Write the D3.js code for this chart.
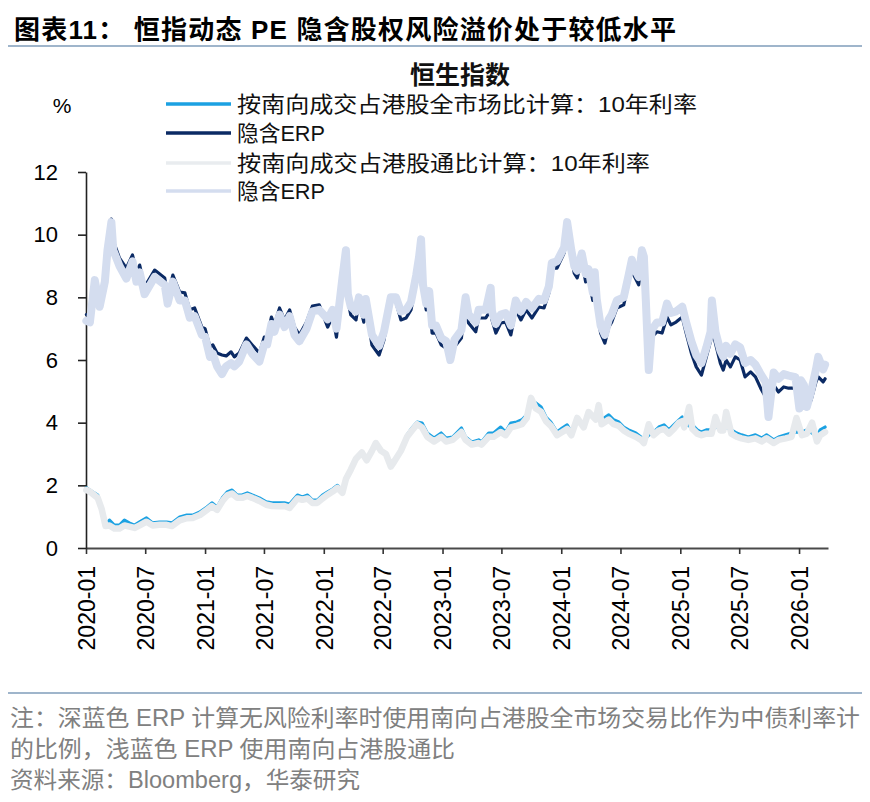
<!DOCTYPE html>
<html>
<head>
<meta charset="utf-8">
<script src="https://cdn.jsdelivr.net/npm/d3@7"></script>
<style>
  body { margin: 0; background: #fff; }
  svg { display: block; }
</style>
</head>
<body>
<div id="chart-container"></div>
<script>
// --- 1. DATA ---
const erpDates = [
  "2020-01-02","2020-01-13","2020-01-28","2020-02-12","2020-02-28","2020-03-07","2020-03-19","2020-03-25",
  "2020-04-13","2020-05-04","2020-05-23","2020-06-04","2020-06-14","2020-06-29","2020-07-30","2020-08-30",
  "2020-09-08","2020-09-24","2020-10-15","2020-10-31","2020-11-15","2020-11-30","2020-12-22","2021-01-01",
  "2021-01-16","2021-01-25","2021-02-07","2021-02-22","2021-03-07","2021-03-22","2021-04-01","2021-04-16",
  "2021-05-08","2021-05-26","2021-06-17","2021-07-02","2021-07-11","2021-07-24","2021-08-02","2021-08-18",
  "2021-09-02","2021-09-18","2021-10-03","2021-10-18","2021-11-09","2021-11-27","2021-12-18","2022-01-13",
  "2022-01-28","2022-02-09","2022-02-27","2022-03-10","2022-03-16","2022-03-25","2022-04-10","2022-04-19",
  "2022-05-04","2022-05-10","2022-05-29","2022-06-20","2022-07-05","2022-07-26","2022-08-11","2022-08-26",
  "2022-09-11","2022-09-26","2022-10-12","2022-10-21","2022-10-27","2022-11-02","2022-11-12","2022-11-21",
  "2022-11-30","2022-12-12","2022-12-28","2023-01-12","2023-01-25","2023-02-07","2023-02-28","2023-03-13",
  "2023-03-22","2023-04-13","2023-04-22","2023-05-14","2023-05-29","2023-06-02","2023-06-14","2023-06-29",
  "2023-07-14","2023-07-30","2023-08-14","2023-08-30","2023-09-15","2023-10-03","2023-10-24","2023-11-09",
  "2023-11-24","2023-12-03","2023-12-19","2024-01-10","2024-01-19","2024-02-01","2024-02-10","2024-02-19",
  "2024-03-04","2024-03-16","2024-03-25","2024-04-07","2024-04-13","2024-04-19","2024-05-01","2024-05-14",
  "2024-05-26","2024-06-04","2024-06-20","2024-07-11","2024-07-26","2024-08-05","2024-08-11","2024-08-26",
  "2024-09-05","2024-09-11","2024-09-17","2024-09-26","2024-10-05","2024-10-21","2024-11-06","2024-11-21",
  "2024-12-03","2024-12-19","2025-01-07","2025-01-19","2025-02-04","2025-02-19","2025-03-07","2025-03-22",
  "2025-04-04","2025-04-08","2025-04-19","2025-05-04","2025-05-13","2025-05-22","2025-06-04","2025-06-19",
  "2025-07-04","2025-07-19","2025-08-05","2025-08-20","2025-09-05","2025-09-20","2025-09-29","2025-10-15",
  "2025-10-30","2025-11-15","2025-11-30","2025-12-21","2026-01-02","2026-01-07","2026-01-16","2026-01-25",
  "2026-02-07","2026-02-22","2026-03-01","2026-03-16","2026-03-22"
];
// 隐含ERP (全市场口径)
const erpFull = [
  7.45,7.45,8.4,7.95,8.75,9.7,10.5,9.8,
  9.25,8.93,9.35,8.8,9.03,8.33,8.87,8.62,
  8.0,8.71,8.17,8.14,7.6,7.66,7.05,7.0,
  6.42,6.48,6.22,6.16,6.13,6.26,6.1,6.22,
  6.7,6.48,6.22,6.73,6.73,7.37,7.12,7.66,
  7.28,7.6,7.05,6.8,7.21,7.72,7.76,7.05,
  7.4,6.73,8.46,9.51,7.9,7.44,7.28,7.85,
  7.21,7.82,6.48,6.16,6.64,7.9,7.85,7.28,
  7.34,7.6,8.46,9.1,9.2,8.17,7.6,8.0,
  6.86,6.86,6.48,6.38,6.0,6.42,6.7,7.9,
  7.18,6.9,7.34,7.34,7.6,7.28,6.86,7.18,
  7.21,6.8,7.6,7.28,7.6,7.34,7.69,7.66,
  8.14,8.93,8.93,9.42,10.0,9.29,8.77,8.62,
  9.19,8.49,8.65,7.9,8.65,7.69,6.86,6.54,
  7.05,7.21,7.66,7.76,8.46,9.0,8.71,8.4,
  9.4,9.1,7.69,6.4,6.73,6.9,6.86,7.37,
  7.12,7.21,7.37,6.86,6.22,5.78,5.52,6.1,
  6.6,6.96,6.54,5.9,5.68,6.0,5.78,6.1,
  6.0,5.46,5.62,5.46,5.1,4.82,5.0,5.2,
  4.98,5.14,5.1,5.1,5.0,4.95,4.82,4.56,
  4.72,5.3,5.46,5.3,5.4
];
// 隐含ERP (港股通口径)
const erpConnect = [
  7.25,7.2,8.55,7.7,8.5,9.5,10.4,9.5,
  9.0,8.6,9.15,8.5,8.8,8.1,8.65,8.4,
  7.8,8.5,7.9,7.9,7.35,7.4,6.8,6.75,
  6.1,6.2,5.8,5.55,5.8,5.9,5.8,5.95,
  6.5,6.2,5.95,6.5,6.5,7.15,6.9,7.45,
  7.05,7.4,6.8,6.6,7.0,7.55,7.6,7.3,
  7.6,7.0,8.6,9.5,8.1,7.7,7.55,8.0,
  7.45,7.95,6.8,6.45,6.9,8.0,8.0,7.55,
  7.6,7.85,8.7,9.3,9.85,8.4,7.8,8.2,
  7.1,7.1,6.7,6.6,6.0,6.65,6.95,8.0,
  7.45,7.2,7.6,7.6,8.3,7.55,7.15,7.45,
  7.5,7.1,7.9,7.55,7.85,7.65,7.95,7.9,
  8.35,9.1,9.15,9.6,10.4,9.5,9.0,8.85,
  9.4,8.75,8.9,8.15,8.8,7.95,7.1,6.8,
  7.3,7.45,7.9,8.0,8.7,9.2,8.95,8.65,
  9.5,9.3,7.9,5.68,6.95,7.2,7.2,7.8,
  7.5,7.55,7.7,7.2,6.6,6.15,5.9,6.4,
  6.9,7.9,6.9,6.3,6.1,6.45,6.2,6.5,
  6.4,5.9,6.0,5.85,5.55,5.3,4.18,5.6,
  5.4,5.55,5.5,5.45,4.45,5.35,5.2,4.5,
  5.0,5.7,6.1,5.7,5.85
];

const rateDates = [
  "2020-01-02","2020-01-13","2020-02-06","2020-02-18","2020-03-01","2020-03-13","2020-03-28","2020-04-13",
  "2020-04-28","2020-05-13","2020-05-29","2020-06-14","2020-07-05","2020-07-24","2020-08-14","2020-09-05",
  "2020-09-21","2020-10-15","2020-11-06","2020-11-24","2020-12-16","2021-01-07","2021-01-22","2021-02-07",
  "2021-02-25","2021-03-10","2021-03-25","2021-04-10","2021-04-25","2021-05-11","2021-05-26","2021-06-17",
  "2021-07-08","2021-07-26","2021-08-18","2021-09-02","2021-09-18","2021-10-12","2021-10-27","2021-11-12",
  "2021-11-27","2021-12-12","2021-12-28","2022-01-13","2022-01-28","2022-02-12","2022-02-27","2022-03-10",
  "2022-03-25","2022-04-10","2022-04-28","2022-05-13","2022-05-29","2022-06-10","2022-06-26","2022-07-11",
  "2022-07-26","2022-08-05","2022-08-26","2022-09-14","2022-09-29","2022-10-15","2022-10-30","2022-11-15",
  "2022-12-06","2022-12-28","2023-01-12","2023-02-01","2023-02-28","2023-03-13","2023-04-01","2023-04-22",
  "2023-05-01","2023-05-23","2023-06-07","2023-06-29","2023-07-14","2023-07-30","2023-08-17","2023-09-02",
  "2023-09-17","2023-09-30","2023-10-15","2023-10-31","2023-11-15","2023-11-30","2023-12-19","2024-01-04",
  "2024-01-19","2024-02-01","2024-02-19","2024-03-10","2024-03-25","2024-04-16","2024-04-25","2024-05-04",
  "2024-05-26","2024-06-10","2024-06-26","2024-07-11","2024-07-26","2024-08-17","2024-09-02","2024-09-11",
  "2024-09-26","2024-10-11","2024-10-27","2024-11-12","2024-11-27","2024-12-12","2024-12-28","2025-01-07",
  "2025-01-13","2025-01-28","2025-02-07","2025-02-22","2025-03-07","2025-03-22","2025-04-07","2025-04-19",
  "2025-05-04","2025-05-13","2025-05-22","2025-06-07","2025-06-23","2025-07-08","2025-07-29","2025-08-20",
  "2025-09-08","2025-09-23","2025-10-15","2025-10-30","2025-11-21","2025-12-09","2025-12-24","2026-01-10",
  "2026-01-25","2026-02-10","2026-02-25","2026-03-07","2026-03-22"
];
// 10年利率 (按南向成交占港股全市场比计算)
const rateFull = [
  1.92,1.85,1.69,1.31,0.73,0.89,0.73,0.73,
  0.89,0.8,0.73,0.83,0.96,0.8,0.83,0.83,
  0.8,0.99,1.05,1.05,1.15,1.31,1.44,1.31,
  1.63,1.79,1.85,1.69,1.69,1.76,1.69,1.6,
  1.47,1.44,1.44,1.44,1.4,1.69,1.63,1.69,
  1.53,1.53,1.69,1.79,1.88,2.0,1.85,2.17,
  2.49,2.87,3.06,2.81,3.13,3.38,3.13,3.03,
  2.59,2.81,3.13,3.61,3.83,4.02,3.99,3.67,
  3.51,3.67,3.51,3.54,3.83,3.54,3.38,3.45,
  3.38,3.67,3.67,3.86,3.7,3.99,4.02,4.09,
  4.25,4.63,4.63,4.5,4.18,4.02,3.7,3.83,
  3.93,3.7,4.02,3.99,4.2,4.25,4.35,4.09,
  4.25,4.09,4.02,3.86,3.77,3.67,3.54,3.45,
  3.6,3.7,3.86,3.93,3.77,3.93,4.09,4.18,
  3.99,3.9,3.93,3.77,3.7,3.77,3.77,3.85,
  3.86,3.86,3.85,3.77,3.67,3.61,3.54,3.61,
  3.51,3.61,3.45,3.54,3.61,3.67,3.7,3.7,
  3.77,3.67,3.54,3.77,3.86
];
// 10年利率 (按南向成交占港股通比计算)
const rateConnect = [
  1.85,1.8,1.6,1.25,0.7,0.72,0.62,0.62,
  0.72,0.68,0.64,0.72,0.84,0.72,0.74,0.74,
  0.7,0.88,0.95,0.96,1.05,1.22,1.34,1.22,
  1.52,1.68,1.74,1.6,1.6,1.66,1.6,1.5,
  1.38,1.34,1.33,1.34,1.28,1.58,1.54,1.58,
  1.44,1.44,1.58,1.7,1.8,1.92,1.76,2.2,
  2.5,2.85,3.05,2.8,3.1,3.35,3.1,3.0,
  2.6,2.75,3.1,3.55,3.75,3.95,3.85,3.55,
  3.4,3.55,3.4,3.45,3.7,3.45,3.3,3.35,
  3.3,3.55,3.55,3.7,3.6,3.85,3.9,3.95,
  4.15,4.79,4.45,4.35,4.05,3.9,3.6,3.7,
  3.8,3.6,4.15,3.85,4.34,4.1,4.56,3.95,
  4.1,3.95,3.9,3.75,3.65,3.55,3.45,3.35,
  3.95,3.6,3.75,3.8,3.65,3.8,4.0,4.05,
  3.85,4.5,3.8,3.65,3.6,3.65,3.65,4.18,
  3.75,3.75,4.34,3.65,3.55,3.5,3.45,3.5,
  3.4,3.5,3.35,3.45,3.5,3.55,4.15,3.6,
  3.65,4.0,3.4,3.6,3.7
];

const yTicks = [0, 2, 4, 6, 8, 10, 12];
const xTickDates = [
  "2020-01-01","2020-07-01","2021-01-01","2021-07-01","2022-01-01","2022-07-01","2023-01-01",
  "2023-07-01","2024-01-01","2024-07-01","2025-01-01","2025-07-01","2026-01-01"
];
const legendLabels = [
  "按南向成交占港股全市场比计算：10年利率",
  "隐含ERP",
  "按南向成交占港股通比计算：10年利率",
  "隐含ERP"
];
const pageTitle = "图表11： 恒指动态 PE 隐含股权风险溢价处于较低水平";
const chartTitle = "恒生指数";
const unitLabel = "%";
const noteLines = [
  "注：深蓝色 ERP 计算无风险利率时使用南向占港股全市场交易比作为中债利率计",
  "的比例，浅蓝色 ERP 使用南向占港股通比",
  "资料来源：Bloomberg，华泰研究"
];

// --- 2. CONFIGURATION ---
const width = 870, height = 802;
const plot = { left: 86, right: 828, top: 172, bottom: 548 };
const latin = "'Liberation Sans', Arial, 'Noto Sans CJK SC', sans-serif";
const rule = "#9fb5cb";

// draw order = series order (later ones on top)
const series = [
  { name: legendLabels[0], dates: rateDates, values: rateFull,    color: "#1ba1e2", width: 3.2, legendColor: "#1ba1e2" },
  { name: legendLabels[1], dates: erpDates,  values: erpFull,     color: "#0b2a64", width: 3.2, legendColor: "#0b2a64" },
  { name: legendLabels[2], dates: rateDates, values: rateConnect, color: "#e7eaed", width: 6.5, legendColor: "#e9ecef" },
  { name: legendLabels[3], dates: erpDates,  values: erpConnect,  color: "#d4ddef", width: 8,   legendColor: "#d4ddef" }
];

const parseDate = d3.timeParse("%Y-%m-%d");

// --- 3. SVG ---
const svg = d3.select("#chart-container").append("svg")
  .attr("width", width)
  .attr("height", height)
  .attr("viewBox", [0, 0, width, height]);

// page heading
svg.append("text")
  .attr("x", 14).attr("y", 39)
  .attr("textLength", 662).attr("lengthAdjust", "spacing")
  .style("font-family", "'Liberation Sans', 'Noto Sans CJK SC', sans-serif")
  .style("font-weight", "bold").style("font-size", "26px")
  .attr("fill", "#000")
  .text(pageTitle);

svg.append("line")
  .attr("x1", 8).attr("x2", 862).attr("y1", 46).attr("y2", 46)
  .attr("stroke", rule).attr("stroke-width", 2);

// --- 4. SCALES & AXES ---
const x = d3.scaleTime()
  .domain([parseDate("2020-01-01"), parseDate("2026-03-31")])
  .range([plot.left, plot.right]);

const y = d3.scaleLinear()
  .domain([0, 12])
  .range([plot.bottom, plot.top]);

const xAxis = svg.append("g")
  .attr("transform", `translate(0,${plot.bottom})`)
  .call(d3.axisBottom(x)
    .tickValues(xTickDates.map(parseDate))
    .tickFormat(d3.timeFormat("%Y-%m"))
    .tickSize(6)
    .tickSizeOuter(0));

xAxis.select(".domain").attr("stroke", "#4a4a4a").attr("stroke-width", 2.2);
xAxis.selectAll(".tick line").attr("stroke", "#333").attr("stroke-width", 1.6);
xAxis.selectAll(".tick text")
  .attr("transform", "rotate(-90)")
  .attr("text-anchor", "end")
  .attr("x", -18).attr("y", 0).attr("dy", "0.36em")
  .style("font-family", latin).style("font-size", "23px")
  .attr("fill", "#000");

const yAxis = svg.append("g")
  .attr("transform", `translate(${plot.left},0)`)
  .call(d3.axisLeft(y)
    .tickValues(yTicks)
    .tickSize(8)
    .tickSizeOuter(0));

yAxis.select(".domain").attr("stroke", "#222").attr("stroke-width", 1.6);
yAxis.selectAll(".tick line").attr("stroke", "#222").attr("stroke-width", 1.6);
yAxis.selectAll(".tick text")
  .attr("x", -28)
  .style("font-family", latin).style("font-size", "22px")
  .attr("fill", "#000");

// --- 5. LINES ---
const line = d3.line()
  .x(d => x(d.date))
  .y(d => y(d.value));

series.forEach(s => {
  const pts = s.dates.map((d, i) => ({ date: parseDate(d), value: s.values[i] }));
  svg.append("path")
    .datum(pts)
    .attr("fill", "none")
    .attr("stroke", s.color)
    .attr("stroke-width", s.width)
    .attr("stroke-linejoin", "round")
    .attr("stroke-linecap", "round")
    .attr("d", line);
});

// --- 6. TITLE, UNIT & LEGEND ---
svg.append("text")
  .attr("x", 460).attr("y", 84)
  .attr("text-anchor", "middle")
  .style("font-family", "'Noto Sans CJK SC', sans-serif")
  .style("font-weight", "bold").style("font-size", "25px")
  .attr("fill", "#111")
  .text(chartTitle);

svg.append("text")
  .attr("x", 62).attr("y", 113)
  .attr("text-anchor", "middle")
  .style("font-family", latin).style("font-size", "21px")
  .attr("fill", "#000")
  .text(unitLabel);

const legendRows = [104, 133, 163, 191];
const legendWidths = [460, 88, 413, 88];
const legend = svg.append("g");
series.forEach((s, i) => {
  legend.append("line")
    .attr("x1", 166).attr("x2", 231)
    .attr("y1", legendRows[i]).attr("y2", legendRows[i])
    .attr("stroke", s.legendColor).attr("stroke-width", 3.5);
  legend.append("text")
    .attr("x", 237).attr("y", legendRows[i] + 8)
    .attr("textLength", legendWidths[i]).attr("lengthAdjust", "spacingAndGlyphs")
    .style("font-family", latin).style("font-size", "22px")
    .attr("fill", "#111")
    .text(s.name);
});

// --- 7. FOOTNOTES ---
svg.append("line")
  .attr("x1", 8).attr("x2", 862).attr("y1", 693).attr("y2", 693)
  .attr("stroke", rule).attr("stroke-width", 2);

const noteWidths = [850, 445, 350];
noteLines.forEach((t, i) => {
  svg.append("text")
    .attr("x", 10).attr("y", 726 + i * 31)
    .attr("textLength", noteWidths[i]).attr("lengthAdjust", "spacingAndGlyphs")
    .style("font-family", latin).style("font-size", "23px")
    .attr("fill", "#808080")
    .text(t);
});
</script>
</body>
</html>
